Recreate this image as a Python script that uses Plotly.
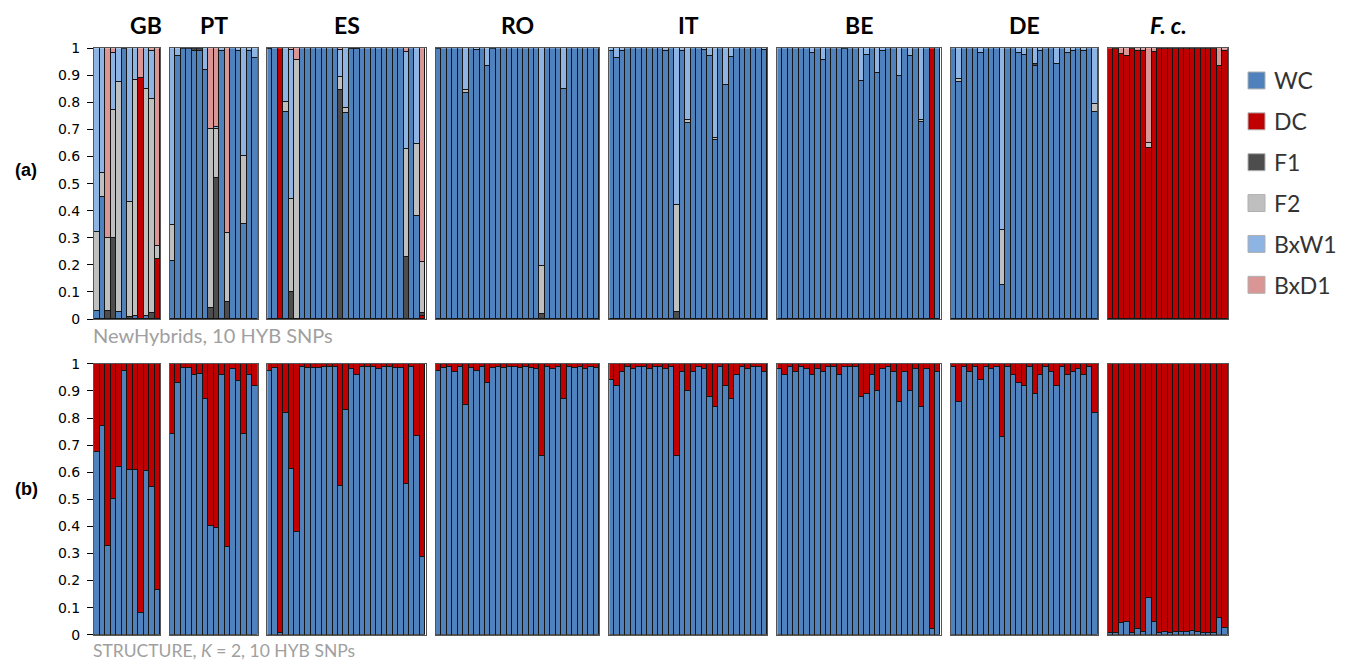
import plotly.graph_objects as go

W, H = 1355, 663

COMPONENTS = ["WC", "DC", "F1", "F2", "BxW1", "BxD1"]
COLORS = ["#4F81BD", "#C00000", "#4D4D4D", "#BFBFBF", "#8DB4E2", "#DA9694"]
POPS = ["GB", "PT", "ES", "RO", "IT", "BE", "DE", "F. c."]

# NewHybrids posterior class probabilities per individual:
# (DC, F1, F2, BxW1, BxD1); WC is the remainder to 1
NH_GB = [(0, 0, 0.29, 0.68, 0), (0, 0, 0.09, 0.46, 0), (0, 0.03, 0.27, 0, 0.70),
         (0, 0.30, 0.47, 0.21, 0.02), (0, 0, 0.85, 0.125, 0), (0, 0, 0.005, 0, 0),
         (0, 0.005, 0.425, 0.57, 0), (0, 0, 0.87, 0.12, 0), (0.89, 0, 0, 0, 0.11),
         (0, 0, 0.84, 0.15, 0), (0, 0.02, 0.79, 0.18, 0.01), (0.22, 0, 0.05, 0, 0.73)]
NH_PT = [(0, 0, 0.13, 0.655, 0), (0, 0, 0, 0.028, 0), (0, 0, 0, 0.005, 0),
         (0, 0, 0, 0.005, 0), (0, 0.005, 0, 0.005, 0), (0, 0.005, 0, 0.005, 0),
         (0, 0, 0, 0.08, 0), (0, 0.04, 0.66, 0, 0.30), (0, 0.52, 0.18, 0.01, 0.29),
         (0, 0, 0, 0.01, 0), (0, 0.06, 0.255, 0, 0.685), (0, 0, 0, 0, 0),
         (0, 0, 0, 0.01, 0), (0, 0, 0.25, 0.40, 0), (0, 0, 0, 0.01, 0),
         (0, 0, 0, 0.037, 0)]
NH_ES = [(0, 0.005, 0, 0, 0), (0, 0, 0, 0, 0), (1.0, 0, 0, 0, 0),
         (0, 0, 0.037, 0.20, 0), (0, 0.098, 0.346, 0.55, 0.006), (0, 0, 0.955, 0, 0.045),
         (0, 0, 0, 0, 0), (0, 0, 0, 0, 0), (0, 0, 0, 0, 0), (0, 0, 0, 0, 0),
         (0, 0, 0, 0, 0), (0, 0, 0, 0, 0), (0, 0, 0, 0, 0),
         (0, 0.844, 0.05, 0.10, 0.006), (0, 0, 0.02, 0.22, 0), (0, 0.005, 0, 0, 0),
         (0, 0.005, 0, 0, 0), (0, 0, 0, 0, 0), (0, 0, 0, 0, 0), (0, 0, 0, 0, 0),
         (0, 0, 0, 0, 0), (0, 0, 0, 0, 0), (0, 0, 0, 0, 0), (0, 0, 0, 0, 0),
         (0, 0, 0, 0, 0), (0, 0.227, 0.40, 0.36, 0.013), (0, 0, 0, 0, 0),
         (0, 0, 0.264, 0.356, 0), (0.01, 0.01, 0.19, 0, 0.79)]
NH_RO = [(0, 0, 0, 0.005, 0), (0, 0, 0, 0, 0), (0, 0, 0, 0, 0), (0, 0, 0, 0, 0),
         (0, 0, 0, 0, 0), (0, 0, 0.01, 0.156, 0), (0, 0, 0, 0, 0), (0, 0, 0, 0.008, 0),
         (0, 0, 0, 0, 0), (0, 0, 0, 0.067, 0), (0, 0, 0, 0.005, 0), (0, 0, 0, 0, 0),
         (0, 0, 0, 0, 0), (0, 0, 0, 0, 0), (0, 0, 0, 0, 0), (0, 0, 0, 0, 0),
         (0, 0, 0, 0, 0), (0, 0, 0, 0, 0), (0, 0, 0, 0, 0), (0, 0.018, 0.175, 0.807, 0),
         (0, 0, 0, 0, 0), (0, 0, 0, 0, 0), (0, 0, 0, 0, 0), (0, 0, 0, 0.15, 0),
         (0, 0, 0, 0, 0), (0, 0, 0, 0, 0), (0, 0, 0, 0, 0), (0, 0, 0, 0, 0),
         (0, 0, 0, 0, 0), (0, 0, 0, 0, 0)]
NH_IT = [(0, 0, 0, 0.012, 0), (0, 0, 0, 0.037, 0), (0, 0, 0, 0.012, 0), (0, 0, 0, 0, 0),
         (0, 0, 0, 0, 0), (0, 0, 0, 0, 0), (0, 0, 0, 0, 0), (0, 0, 0, 0, 0),
         (0, 0, 0, 0, 0), (0, 0, 0, 0, 0), (0, 0, 0, 0.012, 0), (0, 0, 0, 0, 0),
         (0, 0.025, 0.396, 0.579, 0), (0, 0, 0, 0.012, 0), (0, 0, 0.01, 0.266, 0),
         (0, 0, 0, 0, 0), (0, 0, 0, 0, 0), (0, 0, 0, 0.008, 0), (0, 0, 0, 0.03, 0),
         (0, 0, 0.01, 0.331, 0), (0, 0, 0, 0, 0), (0, 0, 0, 0.135, 0), (0, 0, 0, 0.034, 0),
         (0, 0, 0, 0, 0), (0, 0, 0, 0, 0), (0, 0, 0, 0, 0), (0, 0, 0, 0, 0),
         (0, 0, 0, 0, 0), (0, 0, 0, 0.008, 0)]
NH_BE = [(0, 0, 0, 0, 0), (0, 0, 0, 0, 0), (0, 0, 0, 0, 0), (0, 0, 0, 0, 0),
         (0, 0, 0, 0, 0), (0, 0, 0, 0, 0), (0, 0, 0, 0.018, 0), (0, 0, 0, 0, 0),
         (0, 0, 0, 0.043, 0), (0, 0, 0, 0, 0), (0, 0, 0, 0, 0), (0, 0, 0, 0, 0),
         (0, 0, 0, 0.005, 0), (0, 0, 0, 0, 0), (0, 0, 0, 0, 0), (0, 0, 0, 0.123, 0),
         (0, 0, 0, 0.027, 0), (0, 0, 0, 0, 0), (0, 0, 0, 0.092, 0), (0, 0, 0, 0.012, 0),
         (0, 0, 0, 0, 0), (0, 0, 0, 0, 0), (0, 0, 0, 0.102, 0), (0, 0, 0, 0, 0),
         (0, 0, 0, 0.03, 0), (0, 0, 0, 0, 0), (0, 0, 0.005, 0.267, 0), (0, 0, 0, 0, 0),
         (1.0, 0, 0, 0, 0), (0, 0, 0, 0, 0)]
NH_DE = [(0, 0, 0, 0, 0), (0, 0, 0.01, 0.115, 0), (0, 0, 0, 0, 0), (0, 0, 0, 0, 0),
         (0, 0, 0, 0, 0), (0, 0, 0, 0.018, 0), (0, 0, 0, 0, 0), (0, 0, 0, 0, 0),
         (0, 0, 0, 0, 0), (0, 0, 0.205, 0.672, 0), (0, 0, 0, 0, 0), (0, 0, 0, 0, 0),
         (0, 0, 0, 0.018, 0), (0, 0, 0, 0.025, 0), (0, 0, 0, 0, 0), (0, 0.005, 0, 0.06, 0),
         (0, 0, 0, 0.01, 0), (0, 0, 0, 0, 0), (0, 0, 0, 0, 0), (0, 0, 0, 0.06, 0),
         (0, 0, 0, 0, 0), (0, 0, 0, 0.018, 0), (0, 0, 0, 0.01, 0), (0, 0, 0, 0, 0),
         (0, 0, 0, 0.01, 0), (0, 0, 0, 0, 0), (0, 0, 0.03, 0.206, 0)]
NH_FC = [(1.0, 0, 0, 0, 0), (0.995, 0, 0, 0, 0.005), (0.978, 0, 0, 0, 0.022),
         (0.972, 0, 0, 0, 0.028), (0.995, 0, 0, 0, 0.005), (0.99, 0, 0, 0, 0.01),
         (0.99, 0, 0, 0, 0.01), (0.632, 0, 0.018, 0, 0.35), (0.985, 0, 0, 0, 0.015),
         (0.995, 0, 0, 0, 0.005), (0.995, 0, 0, 0, 0.005), (0.995, 0, 0, 0, 0.005),
         (0.995, 0, 0, 0, 0.005), (0.995, 0, 0, 0, 0.005), (0.995, 0, 0, 0, 0.005),
         (0.995, 0, 0, 0, 0.005), (0.995, 0, 0, 0, 0.005), (0.995, 0, 0, 0, 0.005),
         (0.995, 0, 0, 0, 0.005), (0.995, 0, 0, 0, 0.005), (0.935, 0, 0, 0, 0.065),
         (0.99, 0, 0, 0, 0.01)]

# STRUCTURE (K = 2) wildcat ancestry q per individual; domestic = 1 - q
ST_GB = [0.674, 0.772, 0.327, 0.503, 0.62, 0.974, 0.61, 0.61, 0.082, 0.606, 0.545, 0.165]
ST_PT = [0.742, 0.929, 0.985, 0.985, 0.96, 0.963, 0.871, 0.402, 0.395, 0.96, 0.325,
         0.98, 0.939, 0.742, 0.96, 0.918]
ST_ES = [0.975, 0.985, 0.006, 0.82, 0.611, 0.38, 0.99, 0.985, 0.985, 0.985, 0.99, 0.99,
         0.99, 0.548, 0.83, 0.98, 0.96, 0.99, 0.99, 0.99, 0.98, 0.99, 0.99, 0.985, 0.985,
         0.556, 0.99, 0.736, 0.288]
ST_RO = [0.975, 0.985, 0.99, 0.97, 0.99, 0.85, 0.985, 0.975, 0.99, 0.93, 0.985, 0.99,
         0.985, 0.99, 0.99, 0.985, 0.99, 0.985, 0.98, 0.66, 0.99, 0.98, 0.99, 0.87, 0.99,
         0.985, 0.99, 0.98, 0.99, 0.985]
ST_IT = [0.94, 0.92, 0.97, 0.99, 0.98, 0.99, 0.99, 0.98, 0.99, 0.99, 0.98, 0.99, 0.66,
         0.97, 0.9, 0.97, 0.99, 0.98, 0.88, 0.84, 0.99, 0.92, 0.87, 0.96, 0.99, 0.98,
         0.99, 0.99, 0.97]
ST_BE = [0.98, 0.96, 0.99, 0.97, 0.99, 0.98, 0.96, 0.98, 0.97, 0.99, 0.99, 0.96, 0.99,
         0.99, 0.99, 0.88, 0.89, 0.96, 0.9, 0.98, 0.99, 0.97, 0.86, 0.97, 0.9, 0.98, 0.84,
         0.98, 0.02, 0.97]
ST_DE = [0.99, 0.86, 0.99, 0.97, 0.99, 0.94, 0.99, 0.98, 0.99, 0.73, 0.99, 0.96, 0.93,
         0.92, 0.99, 0.89, 0.96, 0.99, 0.97, 0.92, 0.99, 0.96, 0.97, 0.98, 0.96, 0.99, 0.82]
ST_FC = [0.006, 0.006, 0.043, 0.049, 0.006, 0.022, 0.012, 0.137, 0.049, 0.006, 0.009,
         0.006, 0.012, 0.012, 0.012, 0.015, 0.01, 0.005, 0.005, 0.005, 0.064, 0.025]

NEWHYBRIDS = [NH_GB, NH_PT, NH_ES, NH_RO, NH_IT, NH_BE, NH_DE, NH_FC]
STRUCTURE = [ST_GB, ST_PT, ST_ES, ST_RO, ST_IT, ST_BE, ST_DE, ST_FC]

# ---- layout geometry (pixels) ----
PANEL_X = [(94, 160), (170, 257.5), (267.3, 425.7), (435.7, 599), (609.3, 767.3),
           (777.3, 940.7), (951, 1097.7), (1108, 1227.7)]
TITLE_X = [146, 214, 347, 517, 688, 859, 1024, 1168]
ROW_Y = [(46.7, 318.3), (363.3, 635)]

# vertical placement correction for the rendered page
Y_OFF, Y_SCALE = 6.3, 0.979

TICK_FONT = dict(family="DejaVu Sans", size=14, color="#000000")
OUTLINE = dict(color="#151515", width=1)


def px_x(x):
    return x / W


def px_y(y):
    return 1 - ((y - Y_OFF) / Y_SCALE) / H


def nz(values):
    return [v if v > 0 else None for v in values]


fig = go.Figure()
layout = dict(
    width=W, height=H, margin=dict(l=0, r=0, t=0, b=0),
    paper_bgcolor="white", plot_bgcolor="white",
    barmode="stack", bargap=0, showlegend=False,
)

for row in range(2):
    for col in range(8):
        idx = row * 8 + col + 1
        xa = "x" if idx == 1 else f"x{idx}"
        ya = "y" if idx == 1 else f"y{idx}"
        x0, x1 = PANEL_X[col]
        y0, y1 = ROW_Y[row]
        if row == 0:
            data = NEWHYBRIDS[col]
            n = len(data)
            comps = [[1 - sum(ind) for ind in data]] + [[ind[k] for ind in data] for k in range(5)]
            use = range(6)
        else:
            q = STRUCTURE[col]
            n = len(q)
            comps = [q, [1 - v for v in q]]
            use = range(2)
        xs = list(range(n))
        for k in use:
            fig.add_trace(go.Bar(
                x=xs, y=nz([round(v, 4) for v in comps[k]]), width=1,
                marker=dict(color=COLORS[k], line=OUTLINE),
                name=COMPONENTS[k], xaxis=xa, yaxis=ya, showlegend=False,
            ))
        layout["xaxis" if idx == 1 else f"xaxis{idx}"] = dict(
            domain=[px_x(x0), px_x(x1)], range=[-0.5, n - 0.5], anchor=ya,
            showticklabels=False, ticks="", showgrid=False, zeroline=False,
            showline=True, mirror=True, linecolor="#555555", linewidth=1, fixedrange=True,
        )
        yax = dict(
            domain=[px_y(y1), px_y(y0)], range=[0, 1], anchor=xa,
            showgrid=False, zeroline=False, showline=True, mirror=True,
            linecolor="#555555", linewidth=1, fixedrange=True,
        )
        if col == 0:
            yax.update(
                tickvals=[i / 10 for i in range(11)],
                ticktext=["0"] + [f"0.{i}" for i in range(1, 10)] + ["1"],
                ticks="outside", ticklen=6, tickcolor="#000000",
                tickfont=TICK_FONT, showticklabels=True, ticklabelstandoff=4,
            )
        else:
            yax.update(showticklabels=False, ticks="")
        layout["yaxis" if idx == 1 else f"yaxis{idx}"] = yax

annotations = []
# population headers
for col, pop in enumerate(POPS):
    label = f"<b><i>{pop}</i></b>" if pop == "F. c." else f"<b>{pop}</b>"
    annotations.append(dict(
        x=px_x(TITLE_X[col]), y=px_y(23), xref="paper", yref="paper",
        text=label, showarrow=False, xanchor="center", yanchor="middle",
        font=dict(family="Lato", size=23, color="#000000"),
    ))

# panel letters
for text, ypx in [("(a)", 169), ("(b)", 489)]:
    annotations.append(dict(
        x=px_x(26), y=px_y(ypx), xref="paper", yref="paper",
        text=f"<b>{text}</b>", showarrow=False, xanchor="center", yanchor="middle",
        font=dict(family="Liberation Sans", size=18, color="#000000"),
    ))

# method captions
annotations.append(dict(
    x=px_x(91), y=px_y(334), xref="paper", yref="paper",
    text="NewHybrids, 10 HYB SNPs", showarrow=False, xanchor="left", yanchor="middle",
    font=dict(family="Lato", size=20, color="#A0A0A0"),
))
annotations.append(dict(
    x=px_x(91), y=px_y(651), xref="paper", yref="paper",
    text="STRUCTURE, <i>K</i> = 2, 10 HYB SNPs", showarrow=False, xanchor="left",
    yanchor="middle", font=dict(family="Lato", size=17.5, color="#A0A0A0"),
))

# legend
shapes = []
for i, (name, color) in enumerate(zip(COMPONENTS, COLORS)):
    cy = 79 + 41 * i
    shapes.append(dict(
        type="rect", xref="paper", yref="paper",
        x0=px_x(1248), x1=px_x(1265), y0=px_y(cy + 8.5), y1=px_y(cy - 8.5),
        fillcolor=color, line=dict(color="#B0B0B0", width=1),
    ))
    annotations.append(dict(
        x=px_x(1272), y=px_y(cy), xref="paper", yref="paper",
        text=name, showarrow=False, xanchor="left", yanchor="middle",
        font=dict(family="Lato", size=23, color="#333333"),
    ))

layout["annotations"] = annotations
layout["shapes"] = shapes
fig.update_layout(**layout)

fig.write_html("out.html")
